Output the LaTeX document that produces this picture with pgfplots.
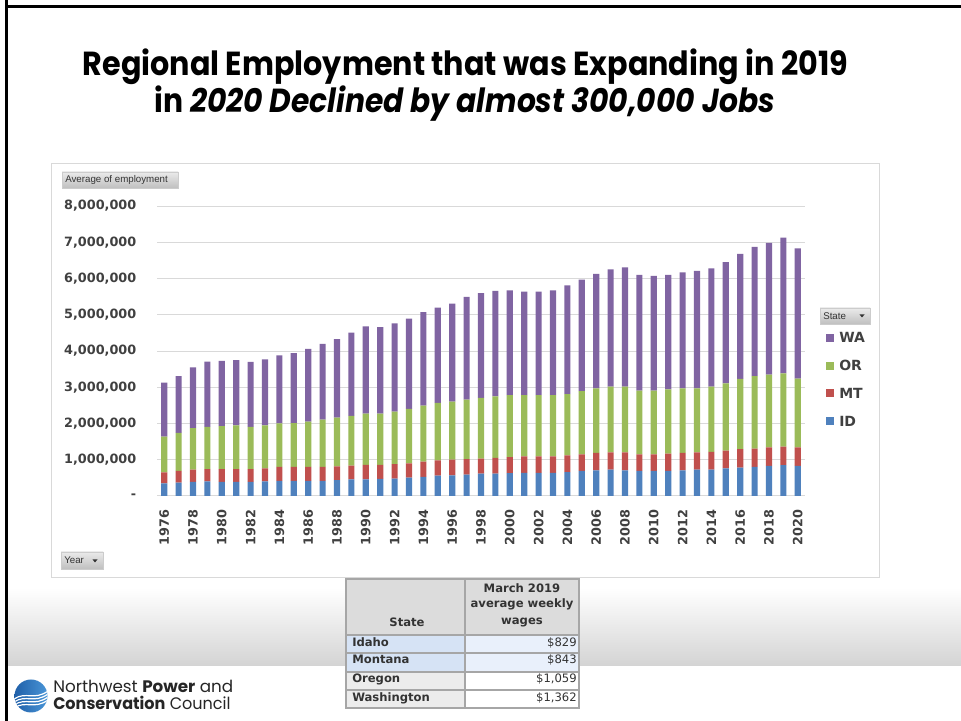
\documentclass[border=0pt]{standalone}
\usepackage{pgfplots}
\pgfplotsset{compat=1.18}
\usepackage{pgfplotstable}
\usepackage{graphicx}
\usepackage{fontspec}
\setmainfont{DejaVu Sans}
\newfontfamily\poppins{Poppins}
\newfontfamily\arial{Liberation Sans}
\definecolor{cWA}{HTML}{8064A2}
\definecolor{cOR}{HTML}{9BBB59}
\definecolor{cMT}{HTML}{C0504D}
\definecolor{cID}{HTML}{4F81BD}
\definecolor{tick}{HTML}{404040}
\definecolor{gridc}{HTML}{D9D9D9}
\definecolor{tline}{HTML}{A6A6A6}
\definecolor{hdr}{HTML}{DCDCDC}
\definecolor{blue1}{HTML}{D6E3F5}
\definecolor{blue2}{HTML}{E9F0FB}
\definecolor{gr1}{HTML}{ECECEC}
\definecolor{txt}{HTML}{333333}
\definecolor{logob}{HTML}{1F5FA8}
\definecolor{logol}{HTML}{4A96D8}

\pgfplotstableread{
year ID MT OR WA
1976 350000 300000 990000 1490000
1977 370000 320000 1050000 1570000
1978 390000 340000 1140000 1680000
1979 400000 340000 1170000 1800000
1980 390000 350000 1190000 1800000
1981 390000 350000 1210000 1800000
1982 390000 350000 1170000 1790000
1983 400000 360000 1190000 1820000
1984 420000 380000 1200000 1880000
1985 420000 380000 1210000 1930000
1986 420000 380000 1250000 2010000
1987 420000 380000 1310000 2090000
1988 440000 380000 1340000 2170000
1989 460000 380000 1370000 2300000
1990 460000 400000 1410000 2410000
1991 470000 390000 1410000 2390000
1992 480000 400000 1450000 2430000
1993 510000 390000 1500000 2490000
1994 530000 420000 1540000 2580000
1995 560000 420000 1590000 2630000
1996 570000 430000 1600000 2710000
1997 590000 430000 1640000 2830000
1998 620000 410000 1680000 2890000
1999 620000 430000 1700000 2910000
2000 630000 440000 1710000 2890000
2001 640000 450000 1690000 2860000
2002 640000 450000 1690000 2860000
2003 640000 450000 1690000 2890000
2004 660000 460000 1690000 3000000
2005 690000 460000 1740000 3080000
2006 710000 480000 1780000 3160000
2007 730000 470000 1820000 3230000
2008 710000 490000 1820000 3290000
2009 690000 460000 1760000 3190000
2010 690000 460000 1760000 3160000
2011 690000 480000 1770000 3160000
2012 710000 480000 1780000 3200000
2013 730000 470000 1770000 3240000
2014 730000 490000 1800000 3260000
2015 760000 490000 1860000 3340000
2016 780000 510000 1940000 3450000
2017 800000 510000 2000000 3560000
2018 830000 510000 2010000 3630000
2019 850000 510000 2020000 3750000
2020 830000 510000 1900000 3590000
}\emp

\begin{document}
\begin{tikzpicture}
\begin{scope}[x=0.75pt,y=0.75pt]
\fill[white] (0,0) rectangle (961,721);
% gradient band
\shade[top color=white, bottom color=black!17] (7,55) rectangle (961,133);
% slide frame
\fill[black] (5,0) rectangle (7.5,721);
\fill[black] (5,713.3) rectangle (961,716);
% title
\node[anchor=base, inner sep=0pt, font=\poppins\bfseries\fontsize{25}{30}\selectfont] at (465.5,645)
  {\resizebox{574pt}{\height}{Regional Employment that was Expanding in 2019}};
\node[anchor=base, inner sep=0pt, font=\poppins\bfseries\fontsize{25}{30}\selectfont] at (465,608)
  {\resizebox{465pt}{\height}{in \textit{2020 Declined by almost 300,000 Jobs}}};
% chart box
\draw[gridc, fill=white, line width=0.75pt] (51,557) rectangle (879,143);
% buttons
\shade[top color=black!8, bottom color=black!25, draw=black!20] (62,549) rectangle (178,533);
\node[anchor=west, inner sep=0pt, font=\arial\fontsize{7.3}{8}\selectfont, text=txt] at (65,541) {Average of employment};
\shade[top color=black!8, bottom color=black!25, draw=black!20] (61,169) rectangle (103,152);
\node[anchor=west, inner sep=0pt, font=\arial\fontsize{7.3}{8}\selectfont, text=txt] at (64,160.5) {Year};
\fill[txt] (92.5,161.5) -- (97.5,161.5) -- (95,158.5) -- cycle;
\shade[top color=black!8, bottom color=black!25, draw=black!20] (820,413) rectangle (870,397);
\node[anchor=west, inner sep=0pt, font=\arial\fontsize{7.3}{8}\selectfont, text=txt] at (823,405) {State};
\fill[txt] (859.5,406.5) -- (864.5,406.5) -- (862,403.5) -- cycle;
\end{scope}

\begin{axis}[
  at={(117.75pt,168.75pt)}, anchor=south west,
  scale only axis, width=486pt, height=217.5pt,
  ybar stacked, bar width=4.6pt,
  xmin=1975.5, xmax=2020.5, ymin=0, ymax=8000000,
  xtick={1976,1978,...,2020},
  ytick={0,1000000,2000000,3000000,4000000,5000000,6000000,7000000,8000000},
  yticklabels={{-\hspace{7pt}},{1,000,000},{2,000,000},{3,000,000},{4,000,000},{5,000,000},{6,000,000},{7,000,000},{8,000,000}},
  scaled y ticks=false,
  /pgf/number format/1000 sep={},
  /pgf/number format/assume math mode=true,
  ymajorgrids, grid style={draw=gridc, line width=0.75pt},
  axis line style={draw=none}, tick style={draw=none},
  ticklabel style={font=\bfseries\fontsize{9.6}{11}\selectfont, text=tick},
  yticklabel style={anchor=east, xshift=-12pt},
  xticklabel style={rotate=90, anchor=east},
  xticklabel shift=7pt,
  legend reversed,
  legend cell align=left,
  legend image code/.code={\fill[#1] (0pt,-3pt) rectangle (6pt,3pt);},
  legend style={at={(axis description cs:1.0324,0.4017)}, anchor=west,
    draw=none, fill=none, inner sep=0pt, row sep=13.3pt,
    font=\bfseries\fontsize{10.5}{12}\selectfont, text=tick,
    nodes={inner sep=0pt, text height=7.5pt, text depth=0pt},
    /tikz/every odd column/.append style={column sep=3.75pt}},
]
\addplot[fill=cID, draw=none] table[x=year, y=ID] {\emp};
\addplot[fill=cMT, draw=none] table[x=year, y=MT] {\emp};
\addplot[fill=cOR, draw=none] table[x=year, y=OR] {\emp};
\addplot[fill=cWA, draw=none] table[x=year, y=WA] {\emp};
\legend{ID,MT,OR,WA}
\end{axis}

\begin{scope}[x=0.75pt,y=0.75pt]
% table
\fill[hdr] (346,86) rectangle (579,142);
\fill[blue1] (346,49) rectangle (465,86);
\fill[blue2] (465,49) rectangle (579,86);
\fill[gr1] (346,13) rectangle (465,49);
\fill[white] (465,13) rectangle (579,49);
\draw[tline, line width=1.2pt] (346,13) rectangle (579,142);
\draw[tline, line width=1.2pt] (465,13) -- (465,142);
\foreach \yy in {86,68,49,31} \draw[tline, line width=1.2pt] (346,\yy) -- (579,\yy);
\begin{scope}[every node/.style={inner sep=0pt, text=txt, font=\bfseries\fontsize{8.7}{10}\selectfont}]
\node[anchor=base] at (407,94) {State};
\node[anchor=base] at (522,128) {March 2019};
\node[anchor=base] at (522,113) {average weekly};
\node[anchor=base] at (522,96) {wages};
\node[anchor=base west] at (352,74) {Idaho};
\node[anchor=base west] at (352,57) {Montana};
\node[anchor=base west] at (352,38) {Oregon};
\node[anchor=base west] at (352,19) {Washington};
\end{scope}
\begin{scope}[every node/.style={inner sep=0pt, text=txt, font=\fontsize{8.7}{10}\selectfont}]
\node[anchor=base east] at (577,74) {\$829};
\node[anchor=base east] at (577,57) {\$843};
\node[anchor=base east] at (577,38) {\$1,059};
\node[anchor=base east] at (577,19) {\$1,362};
\end{scope}
% logo
\begin{scope}
\clip (31,25) circle (16.5);
\shade[left color=logob, right color=logol] (14,8) rectangle (48,42);
\foreach \o in {0,3,6,9} {
  \draw[white, line width=0.9pt] (14,22-\o) .. controls (26,30-\o) and (34,20-\o) .. (48,30-\o);
}
\end{scope}
\node[anchor=base west, inner sep=0pt, font=\poppins\fontsize{12.5}{14}\selectfont, text=black!85] at (53,28)
  {\resizebox{135pt}{\height}{Northwest \textbf{Power} and}};
\node[anchor=base west, inner sep=0pt, font=\poppins\fontsize{12.5}{14}\selectfont, text=black!85] at (53,11)
  {\resizebox{133pt}{\height}{\textbf{Conservation} Council}};
\end{scope}
\end{tikzpicture}
\end{document}
